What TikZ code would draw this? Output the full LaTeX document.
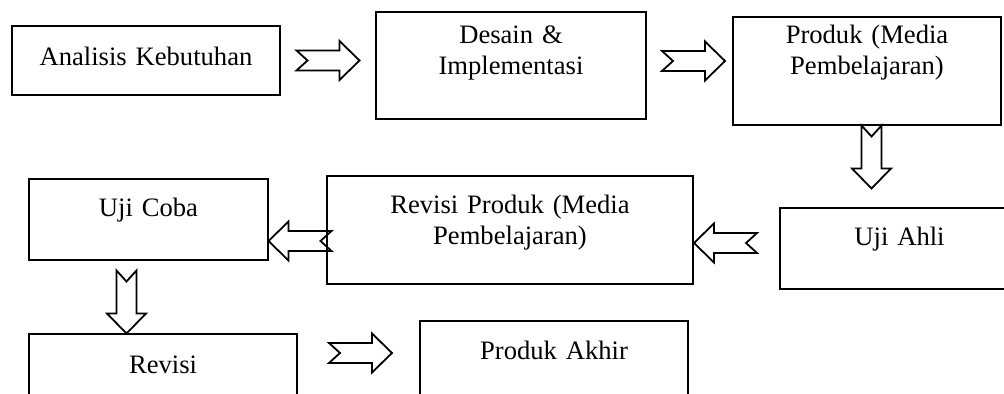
\documentclass[tikz,border=0pt]{standalone}
\usepackage{fontspec}
\setmainfont{Liberation Serif}
\usetikzlibrary{calc}
\tikzstyle{kotak}=[draw, line width=1pt, inner sep=0pt, anchor=north west, align=center, font=\fontsize{13.3}{15.5}\selectfont]
\tikzstyle{satu}=[text height=19pt, text depth=21.5pt]
\tikzset{panah/.pic={\draw[line width=0.9pt, line join=miter] (-31.5,-10) -- (11.5,-10) -- (11.5,-19.5) -- (31.5,0) -- (11.5,19.5) -- (11.5,10) -- (-31.5,10) -- (-20.5,0) -- cycle;}}

\begin{document}
\begin{tikzpicture}[x=0.5pt,y=-0.5pt]
\useasboundingbox (0,0) rectangle (1004,394);
\clip (0,0) rectangle (1004,394);

% baris atas
\node[kotak, text width=134pt, text height=20pt, text depth=14.5pt] (analisis) at (11,25) {Analisis Kebutuhan};
\node[kotak, text width=135pt, text height=16pt, text depth=37.5pt] (desain) at (375,11) {Desain \&\\Implementasi};
\node[kotak, text width=134pt, text height=13.25pt, text depth=40.75pt] (produk) at (732,16) {Produk (Media\\Pembelajaran)};

\pic at ($(analisis.east)!0.5!(analisis.east -| desain.west)$) {panah};
\pic at ($(desain.east)+(46.5,-4.5)$) {panah};
\pic[rotate=-90] at ($(produk.south)+(4.5,31)$) {panah};

% baris tengah
\node[kotak, satu, text width=119.5pt] (ujiahli) at (779,207) {Uji Ahli};
\node[kotak, text width=183pt, text height=19pt, text depth=35pt] (revisiproduk) at (326,175) {Revisi Produk (Media\\Pembelajaran)};
\node[kotak, satu, text width=119.5pt] (ujicoba) at (28,178) {Uji Coba};

\pic[rotate=180] at ($(revisiproduk.east)+(31.5,13)$) {panah};
\pic[rotate=180] at ($(ujicoba.east)+(31,21.5)$) {panah};
\pic[rotate=-90] at ($(ujicoba.south)+(-22,41)$) {panah};

% baris bawah
\node[kotak, text width=134pt, text height=19.5pt, text depth=21pt] (revisi) at (28,333) {Revisi};
\node[kotak, satu, text width=134pt] (produkakhir) at (419,320) {Produk Akhir};

\pic at ($(produkakhir.west)+(-58.5,-8.5)$) {panah};
\end{tikzpicture}
\end{document}
